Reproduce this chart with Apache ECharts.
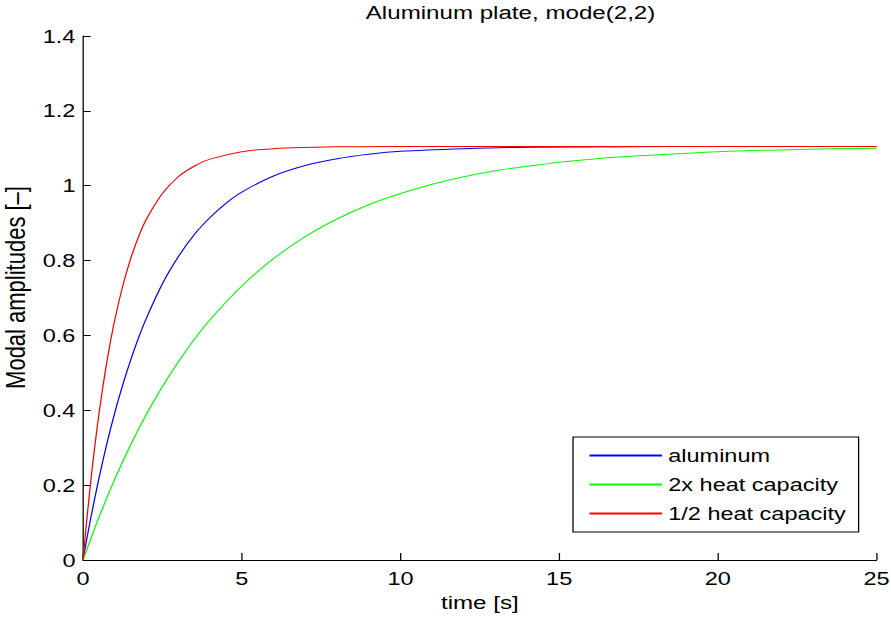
<!DOCTYPE html>
<html>
<head>
<meta charset="utf-8">
<title>Aluminum plate, mode(2,2)</title>
<script src="https://cdn.jsdelivr.net/npm/echarts@6/dist/echarts.min.js"></script>
<style>
  html, body { margin: 0; padding: 0; background: #fff; overflow: hidden; }
  /* the figure is laid out narrow and widened horizontally, like the exported plot */
  #chart { width: 701.6px; height: 620px; transform: scaleX(1.27); transform-origin: 0 0; }
</style>
</head>
<body>
<div id="chart"></div>
<script>
// Time axis and amplitude axis tick labels
const xTickLabels = ['0', '5', '10', '15', '20', '25'];
const yTickLabels = ['0', '0.2', '0.4', '0.6', '0.8', '1', '1.2', '1.4'];

const seriesNames = ['aluminum', '2x heat capacity', '1/2 heat capacity'];
const seriesColors = ['#0000ff', '#00ff00', '#ff0000'];

// Modal amplitude of mode (2,2) versus time [s]
const aluminum = [
  [0, 0], [0.1, 0.048], [0.25, 0.115], [0.5, 0.218], [0.75, 0.311], [1.0, 0.394],
  [1.25, 0.468], [1.5, 0.534], [1.75, 0.594], [2.0, 0.647], [2.5, 0.738],
  [3.0, 0.81], [3.5, 0.869], [4.0, 0.915], [4.5, 0.953], [5.0, 0.983],
  [6.0, 1.026], [7.0, 1.054], [8.0, 1.072], [9.0, 1.084], [10.0, 1.092],
  [12.0, 1.099], [14.0, 1.103], [17.0, 1.104], [20.0, 1.105], [25.0, 1.105]
];
const doubleHeatCapacity = [
  [0, 0], [0.25, 0.058], [0.5, 0.114], [1.0, 0.216], [1.5, 0.308], [2.0, 0.39],
  [2.5, 0.463], [3.0, 0.529], [3.5, 0.589], [4.0, 0.642], [5.0, 0.732],
  [6.0, 0.805], [7.0, 0.864], [8.0, 0.911], [9.0, 0.949], [10.0, 0.979],
  [11.0, 1.004], [12.0, 1.024], [13.0, 1.04], [14.0, 1.052], [15.0, 1.063],
  [16.0, 1.071], [17.5, 1.08], [20.0, 1.091], [22.5, 1.097], [25.0, 1.1]
];
const halfHeatCapacity = [
  [0, 0], [0.1, 0.092], [0.2, 0.176], [0.3, 0.254], [0.45, 0.358], [0.6, 0.449],
  [0.8, 0.554], [1.0, 0.642], [1.25, 0.732], [1.5, 0.805], [1.75, 0.864],
  [2.0, 0.911], [2.5, 0.979], [3.0, 1.024], [3.5, 1.052], [4.0, 1.071],
  [5.0, 1.091], [6.0, 1.099], [8.0, 1.104], [10.0, 1.105], [15.0, 1.105],
  [25.0, 1.105]
];
const seriesData = [aluminum, doubleHeatCapacity, halfHeatCapacity];

const FONT = '"Liberation Sans", Arial, Helvetica, sans-serif';

const chart = echarts.init(document.getElementById('chart'), null, { renderer: 'svg' });

chart.setOption({
  animation: false,
  backgroundColor: '#fff',
  title: {
    text: 'Aluminum plate, mode(2,2)',
    left: 402,
    textAlign: 'center',
    top: 3,
    padding: 0,
    textStyle: { fontFamily: FONT, fontSize: 19, fontWeight: 'normal', color: '#000' }
  },
  grid: {
    left: 65.4, right: 11.8, top: 36, bottom: 60,
    containLabel: false, outerBoundsMode: 'none'
  },
  legend: {
    data: seriesNames,
    orient: 'vertical',
    left: 451.2,
    top: 437,
    itemWidth: 57,
    itemHeight: 14,
    itemGap: 10,
    padding: [9, 10, 9, 12],
    borderColor: '#000',
    borderWidth: 1,
    backgroundColor: '#fff',
    // legend keys are plain line segments
    itemStyle: { opacity: 0 },
    textStyle: { fontFamily: FONT, fontSize: 18.5, color: '#000' }
  },
  xAxis: {
    type: 'value',
    min: 0, max: 25, interval: 5,
    name: 'time [s]',
    nameLocation: 'middle',
    nameGap: 33,
    nameTextStyle: { fontFamily: FONT, fontSize: 19, color: '#000' },
    axisLine: { show: true, onZero: false, lineStyle: { color: '#000', width: 1 } },
    axisTick: { show: true, inside: true, length: 7, lineStyle: { color: '#000' } },
    axisLabel: {
      margin: 9, fontFamily: FONT, fontSize: 18.5, color: '#000',
      formatter: (v, i) => xTickLabels[i]
    },
    splitLine: { show: false }
  },
  yAxis: {
    type: 'value',
    min: 0, max: 1.4, interval: 0.2,
    name: 'Modal amplitudes [–]',
    nameLocation: 'middle',
    nameGap: 40,
    nameTextStyle: {
      fontFamily: FONT, fontSize: 22, color: '#000',
      padding: [0, 0, 0, 21]
    },
    axisLine: { show: true, onZero: false, lineStyle: { color: '#000', width: 1 } },
    axisTick: { show: true, inside: true, length: 6, lineStyle: { color: '#000' } },
    axisLabel: {
      margin: 6, fontFamily: FONT, fontSize: 18.5, color: '#000',
      formatter: (v, i) => yTickLabels[i]
    },
    splitLine: { show: false }
  },
  series: seriesNames.map((name, k) => ({
    name: name,
    type: 'line',
    data: seriesData[k],
    showSymbol: false,
    symbol: 'none',
    smooth: 0.3,
    color: seriesColors[k],
    lineStyle: { color: seriesColors[k], width: 1 },
    emphasis: { disabled: true }
  }))
});
</script>
</body>
</html>
